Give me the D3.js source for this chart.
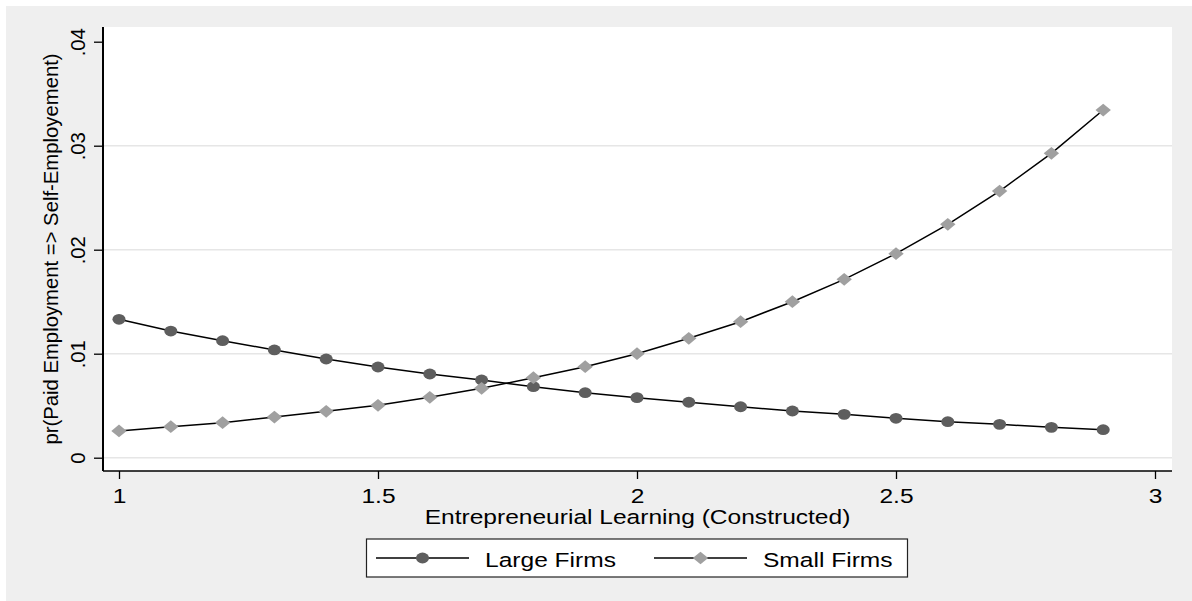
<!DOCTYPE html>
<html>
<head>
<meta charset="utf-8">
<script src="https://cdn.jsdelivr.net/npm/d3@7"></script>
<style>
  html, body { margin: 0; padding: 0; background: #fff; }
  text { font-family: "Liberation Sans", Arial, sans-serif; fill: #000; }
</style>
</head>
<body>
<div id="content"></div>
<script>
// values
const xValues = [1.0, 1.1, 1.2, 1.3, 1.4, 1.5, 1.6, 1.7, 1.8, 1.9, 2.0, 2.1, 2.2, 2.3, 2.4, 2.5, 2.6, 2.7, 2.8, 2.9];
const largeFirms = [0.01331, 0.01218, 0.01125, 0.01036, 0.00949, 0.00872, 0.00805, 0.00747, 0.00683, 0.00625,
  0.00577, 0.00533, 0.00490, 0.00449, 0.00417, 0.00379, 0.00346, 0.00321, 0.00292, 0.00269];
const smallFirms = [0.00257, 0.00298, 0.00337, 0.00391, 0.00446, 0.00504, 0.00581, 0.00667, 0.00769, 0.00875,
  0.01000, 0.01148, 0.01308, 0.01500, 0.01715, 0.01962, 0.02244, 0.02564, 0.02927, 0.03343];
const xTicks = [1, 1.5, 2, 2.5, 3];
const yTicks = [0, 0.01, 0.02, 0.03, 0.04];
const seriesNames = ['Large Firms', 'Small Firms'];
const xTitle = 'Entrepreneurial Learning (Constructed)';
const yTitle = 'pr(Paid Employment => Self-Employement)';

const width = 1192;
const height = 601;
const stretch = 1.21; // the picture is wider than tall, text and markers too
const fontSize = 20.3;
const dark = '#5e5e5e';
const light = '#a0a0a0';
const gridGrey = '#e6e6e6';
const bgGrey = '#efefef';

const plot = { left: 103, right: 1172, top: 27, bottom: 471 };

const svg = d3.select('#content')
  .append('svg')
  .attr('width', width)
  .attr('height', height);

svg.append('rect')
  .attr('x', 6).attr('y', 6)
  .attr('width', width - 6).attr('height', height - 6)
  .attr('fill', bgGrey);

svg.append('rect')
  .attr('x', plot.left).attr('y', plot.top)
  .attr('width', plot.right - plot.left).attr('height', plot.bottom - plot.top)
  .attr('fill', '#fff');

const x = d3.scaleLinear().domain([1, 3]).range([119, 1155]);
const y = d3.scaleLinear().domain([0, 0.04]).range([457.7, 41.7]);

// gridlines (none at the top tick)
svg.append('g')
  .selectAll('line')
  .data(yTicks.filter(d => d < 0.04))
  .join('line')
  .attr('x1', plot.left).attr('x2', plot.right)
  .attr('y1', d => y(d)).attr('y2', d => y(d))
  .attr('stroke', gridGrey)
  .attr('stroke-width', 1.5);

const yFormat = d => (d === 0 ? '0' : d3.format('.2f')(d).replace(/^0/, ''));

// y axis
const yAxis = svg.append('g')
  .attr('transform', `translate(${plot.left},0)`)
  .call(d3.axisLeft(y).tickValues(yTicks).tickSize(9).tickFormat(yFormat));
yAxis.select('.domain').remove();
yAxis.selectAll('.tick line').attr('stroke', '#000').attr('stroke-width', 1.3);
yAxis.selectAll('.tick text')
  .attr('x', null).attr('dy', null)
  .attr('transform', 'translate(-18,0) rotate(-90)')
  .attr('text-anchor', 'middle')
  .attr('font-size', fontSize)
  .attr('font-family', '"Liberation Sans", Arial, sans-serif')
  .attr('fill', '#000');
svg.append('line')
  .attr('x1', plot.left).attr('x2', plot.left)
  .attr('y1', plot.top).attr('y2', plot.bottom)
  .attr('stroke', '#000').attr('stroke-width', 2);

// x axis
const xAxis = svg.append('g')
  .attr('transform', `translate(0,${plot.bottom})`)
  .call(d3.axisBottom(x).tickValues(xTicks).tickSize(8).tickFormat(d3.format('')));
xAxis.select('.domain').remove();
xAxis.selectAll('.tick line').attr('stroke', '#000').attr('stroke-width', 1.3);
xAxis.selectAll('.tick text')
  .attr('y', null).attr('dy', null)
  .attr('transform', `translate(0,32) scale(${stretch},1)`)
  .attr('text-anchor', 'middle')
  .attr('font-size', fontSize)
  .attr('font-family', '"Liberation Sans", Arial, sans-serif')
  .attr('fill', '#000');
svg.append('line')
  .attr('x1', plot.left).attr('x2', plot.right)
  .attr('y1', plot.bottom).attr('y2', plot.bottom)
  .attr('stroke', '#000').attr('stroke-width', 1.5);

// axis titles
const plotMidX = (plot.left + plot.right) / 2;
svg.append('text')
  .attr('transform', `translate(${plotMidX},524) scale(${stretch},1)`)
  .attr('text-anchor', 'middle')
  .attr('font-size', fontSize)
  .text(xTitle);
svg.append('text')
  .attr('transform', `translate(58,${(plot.top + plot.bottom) / 2}) rotate(-90)`)
  .attr('text-anchor', 'middle')
  .attr('font-size', fontSize)
  .text(yTitle);

// series
const series = [
  { name: seriesNames[0], values: largeFirms, color: dark, shape: 'circle' },
  { name: seriesNames[1], values: smallFirms, color: light, shape: 'diamond' }
];

const line = d3.line()
  .x(d => x(d[0]))
  .y(d => y(d[1]));

const circle = d3.symbol().type(d3.symbolCircle).size(Math.PI * 5.4 * 5.4);
const diamond = d3.symbol().type(d3.symbolSquare).size(9 * 9);

function marker(sel, shape, color) {
  if (shape === 'circle') {
    sel.append('path').attr('d', circle()).attr('fill', color)
      .attr('transform', `scale(${stretch},1)`);
  } else {
    sel.append('path').attr('d', diamond()).attr('fill', color)
      .attr('transform', `scale(${stretch},1) rotate(45)`);
  }
}

series.forEach((s) => {
  const pts = xValues.map((v, i) => [v, s.values[i]]);
  svg.append('path')
    .datum(pts)
    .attr('d', line)
    .attr('fill', 'none')
    .attr('stroke', '#000')
    .attr('stroke-width', 1.5);
});

series.forEach((s) => {
  const pts = xValues.map((v, i) => [v, s.values[i]]);
  svg.append('g')
    .selectAll('g')
    .data(pts)
    .join('g')
    .attr('transform', d => `translate(${x(d[0])},${y(d[1])})`)
    .each(function () { marker(d3.select(this), s.shape, s.color); });
});

// legend
const legend = svg.append('g');
legend.append('rect')
  .attr('x', 366.5).attr('y', 539)
  .attr('width', 541).attr('height', 38)
  .attr('fill', '#fff')
  .attr('stroke', '#222')
  .attr('stroke-width', 1.2);

const legendStarts = [376, 654];
series.forEach((s, i) => {
  const x0 = legendStarts[i];
  const g = legend.append('g').attr('transform', `translate(${x0},558)`);
  g.append('line').attr('x1', 0).attr('x2', 93).attr('y1', 0).attr('y2', 0)
    .attr('stroke', '#000').attr('stroke-width', 1.5);
  const m = g.append('g').attr('transform', 'translate(46.5,0)');
  marker(m, s.shape, s.color);
  g.append('text')
    .attr('transform', `translate(109,8.5) scale(${stretch},1)`)
    .attr('font-size', fontSize)
    .text(s.name);
});
</script>
</body>
</html>
